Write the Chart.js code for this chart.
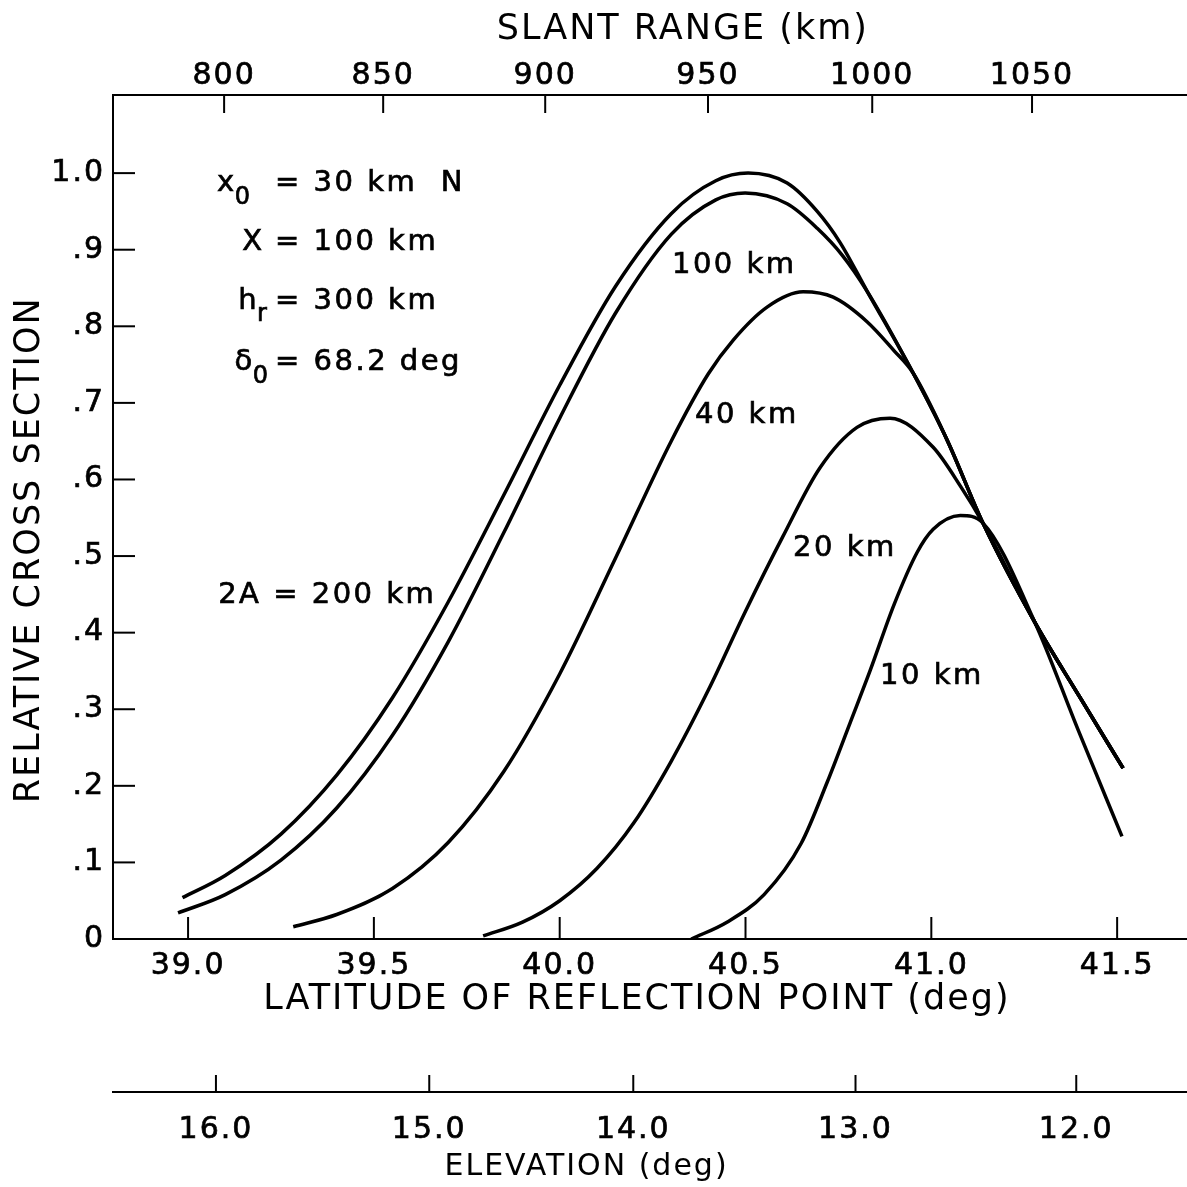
<!DOCTYPE html>
<html>
<head>
<meta charset="utf-8">
<title>Relative cross section vs latitude of reflection point</title>
<script src="https://cdn.jsdelivr.net/npm/chart.js@4.4.1/dist/chart.umd.min.js"></script>
<style>
  html, body { margin: 0; padding: 0; background: #fff; }
  #wrap { width: 1187px; height: 1187px; position: relative; }
</style>
</head>
<body>
<div id="wrap"><canvas id="myChart"></canvas></div>
<script>
// latitude (deg) / relative cross section for each beam width 2A
var lat200 = [38.985, 39.10, 39.25, 39.40, 39.55, 39.70, 39.85, 40.00, 40.15, 40.30, 40.42, 40.507, 40.612, 40.693, 40.755];
var val200 = [0.054, 0.083, 0.137, 0.214, 0.315, 0.440, 0.580, 0.723, 0.852, 0.947, 0.990, 1.000, 0.987, 0.950, 0.909];

var lat100 = [38.973, 39.10, 39.25, 39.40, 39.55, 39.70, 39.85, 40.00, 40.15, 40.30, 40.42, 40.499, 40.612, 40.693, 40.760];
var val100 = [0.034, 0.058, 0.103, 0.171, 0.266, 0.388, 0.531, 0.680, 0.817, 0.920, 0.965, 0.974, 0.960, 0.928, 0.893];

var lat40 = [39.283, 39.40, 39.55, 39.70, 39.85, 40.00, 40.15, 40.30, 40.40, 40.467, 40.558, 40.655, 40.736, 40.827, 40.90];
var val40 = [0.016, 0.032, 0.066, 0.126, 0.219, 0.346, 0.497, 0.650, 0.738, 0.782, 0.825, 0.845, 0.838, 0.806, 0.768];

var lat20 = [39.794, 39.90, 40.00, 40.10, 40.20, 40.30, 40.40, 40.50, 40.60, 40.70, 40.80, 40.889, 41.005, 41.08];
var val20 = [0.004, 0.022, 0.050, 0.092, 0.152, 0.232, 0.325, 0.428, 0.525, 0.615, 0.668, 0.680, 0.642, 0.590];

var lat10 = [40.354, 40.45, 40.55, 40.65, 40.72, 40.782, 40.835, 40.90, 40.962, 41.005, 41.078, 41.139, 41.279, 41.395, 41.513];
var val10 = [0.000, 0.022, 0.058, 0.125, 0.205, 0.283, 0.350, 0.437, 0.505, 0.535, 0.553, 0.543, 0.413, 0.273, 0.134];

// common falling edge the wider beams run into
var envLat = [40.827, 40.951, 41.043, 41.139, 41.279, 41.398, 41.516];
var envVal = [0.846, 0.739, 0.651, 0.543, 0.413, 0.317, 0.223];

// axes
var latTicks = [39.0, 39.5, 40.0, 40.5, 41.0, 41.5];
var latLabels = ['39.0', '39.5', '40.0', '40.5', '41.0', '41.5'];
var yTicks = [0, 0.1, 0.2, 0.3, 0.4, 0.5, 0.6, 0.7, 0.8, 0.9, 1.0];
var yLabels = ['0', '.1', '.2', '.3', '.4', '.5', '.6', '.7', '.8', '.9', '1.0'];
var slantLabels = ['800', '850', '900', '950', '1000', '1050'];
var slantLat = [39.097, 39.525, 39.961, 40.399, 40.841, 41.271];
var elevLabels = ['16.0', '15.0', '14.0', '13.0', '12.0'];
var elevLat = [39.075, 39.649, 40.198, 40.796, 41.390];

var latMin = 38.798, latMax = 41.688;

Chart.defaults.font.family = '"DejaVu Sans", sans-serif';
Chart.defaults.color = '#000';

function curve(lat, val) {
    return lat.map(function (x, i) { return {x: x, y: val[i]}; });
}

var datasets = [
    {label: '200 km', data: curve(lat200.concat(envLat), val200.concat(envVal))},
    {label: '100 km', data: curve(lat100.concat(envLat), val100.concat(envVal))},
    {label: '40 km', data: curve(lat40.concat(envLat.slice(1)), val40.concat(envVal.slice(1)))},
    {label: '20 km', data: curve(lat20.concat(envLat.slice(3)), val20.concat(envVal.slice(3)))},
    {label: '10 km', data: curve(lat10, val10)}
].map(function (ds) {
    ds.borderColor = '#000';
    ds.borderWidth = 3.5;
    ds.pointRadius = 0;
    ds.fill = false;
    ds.cubicInterpolationMode = 'monotone';
    return ds;
});

function setTicks(values) {
    return function (scale) {
        scale.ticks = values.map(function (v) { return {value: v}; });
    };
}

function tickFont(labels) {
    return {
        autoSkip: false, maxRotation: 0,
        font: {size: 30, lineHeight: 1},
        textStrokeColor: '#000', textStrokeWidth: 0.7,
        callback: function (v, i) { return labels[i]; }
    };
}

// the lettering on the original is widely spaced
var lettering = {
    id: 'lettering',
    beforeUpdate: function (chart) { chart.ctx.letterSpacing = '2px'; },
    beforeDraw: function (chart) { chart.ctx.letterSpacing = '2px'; }
};

// tick marks point into the plot on every axis
var innerTicks = {
    id: 'innerTicks',
    afterDatasetsDraw: function (chart, args, opts) {
        var ctx = chart.ctx;
        ctx.save();
        ctx.strokeStyle = '#000';
        ctx.lineWidth = 2;
        opts.marks.forEach(function (m) {
            var s = chart.scales[m.scale];
            s.ticks.forEach(function (t) {
                var p = s.getPixelForValue(t.value);
                ctx.beginPath();
                if (m.scale === 'y') {
                    ctx.moveTo(s.right, p);
                    ctx.lineTo(s.right + m.len, p);
                } else if (m.scale === 'top') {
                    ctx.moveTo(p, s.bottom);
                    ctx.lineTo(p, s.bottom + m.len);
                } else {
                    ctx.moveTo(p, s.top);
                    ctx.lineTo(p, s.top - m.len);
                }
                ctx.stroke();
            });
        });
        ctx.restore();
    }
};

// parameter block and curve labels
var notes = {
    id: 'notes',
    afterDatasetsDraw: function (chart, args, opts) {
        var ctx = chart.ctx, xs = chart.scales.x, ys = chart.scales.y;
        ctx.save();
        ctx.fillStyle = '#000';
        ctx.strokeStyle = '#000';
        ctx.lineWidth = 0.7;
        ctx.textAlign = 'left';
        ctx.textBaseline = 'middle';
        ctx.letterSpacing = '2.5px';
        opts.items.forEach(function (it) {
            var x = xs.getPixelForValue(it.lat);
            var y = ys.getPixelForValue(it.val);
            ctx.font = '29px "DejaVu Sans"';
            ctx.fillText(it.text, x, y);
            ctx.strokeText(it.text, x, y);
            if (it.sub) {
                var w = ctx.measureText(it.text).width;
                ctx.font = '24px "DejaVu Sans"';
                ctx.fillText(it.sub, x + w - 2, y + 14);
                ctx.strokeText(it.sub, x + w - 2, y + 14);
            }
        });
        ctx.restore();
    }
};

var ctx = document.getElementById('myChart');

var xTicks = tickFont(latLabels);
xTicks.padding = 12;
var elevTicks = tickFont(elevLabels);
elevTicks.padding = 23;
var topTicks = tickFont(slantLabels);
topTicks.padding = 4;
var yTickOpts = tickFont(yLabels);
yTickOpts.padding = 8;

var myChart = new Chart(ctx, {
    type: 'line',
    data: {datasets: datasets},
    plugins: [lettering, innerTicks, notes],
    options: {
        responsive: true,
        maintainAspectRatio: false,
        animation: false,
        layout: {padding: {top: 11, left: 0, right: 0, bottom: 0}},
        plugins: {
            legend: {display: false},
            tooltip: {enabled: false},
            innerTicks: {
                marks: [
                    {scale: 'y', len: 22},
                    {scale: 'x', len: 22},
                    {scale: 'top', len: 18},
                    {scale: 'elev', len: 17}
                ]
            },
            notes: {
                items: [
                    {text: 'x', sub: '0', lat: 39.078, val: 0.986},
                    {text: '= 30 km  N', lat: 39.234, val: 0.986},
                    {text: 'X', lat: 39.146, val: 0.910},
                    {text: '= 100 km', lat: 39.234, val: 0.910},
                    {text: 'h', sub: 'r', lat: 39.135, val: 0.833},
                    {text: '= 300 km', lat: 39.234, val: 0.833},
                    {text: 'δ', sub: '0', lat: 39.125, val: 0.753},
                    {text: '= 68.2 deg', lat: 39.234, val: 0.753},
                    {text: '2A = 200 km', lat: 39.081, val: 0.449},
                    {text: '100 km', lat: 40.302, val: 0.880},
                    {text: '40 km', lat: 40.364, val: 0.684},
                    {text: '20 km', lat: 40.628, val: 0.510},
                    {text: '10 km', lat: 40.862, val: 0.343}
                ]
            }
        },
        scales: {
            x: {
                type: 'linear',
                position: 'bottom',
                weight: 0,
                min: latMin,
                max: latMax,
                afterBuildTicks: setTicks(latTicks),
                afterFit: function (s) { s.height = 153; },
                ticks: xTicks,
                grid: {drawOnChartArea: false, drawTicks: false},
                border: {color: '#000', width: 2},
                title: {
                    display: true,
                    text: 'LATITUDE OF REFLECTION POINT (deg)  ',
                    font: {size: 35, lineHeight: 1},
                    padding: {top: 0, bottom: 74.5}
                }
            },
            elev: {
                type: 'linear',
                position: 'bottom',
                weight: 1,
                min: latMin,
                max: latMax,
                afterBuildTicks: setTicks(elevLat),
                afterFit: function (s) { s.height = 95; },
                ticks: elevTicks,
                grid: {drawOnChartArea: false, drawTicks: false},
                border: {color: '#000', width: 2},
                title: {
                    display: true,
                    text: 'ELEVATION (deg)           ',
                    font: {size: 30, lineHeight: 1},
                    padding: {top: 0, bottom: 5}
                }
            },
            top: {
                type: 'linear',
                position: 'top',
                min: latMin,
                max: latMax,
                afterBuildTicks: setTicks(slantLat),
                afterFit: function (s) { s.height = 84; },
                ticks: topTicks,
                grid: {drawOnChartArea: false, drawTicks: false},
                border: {color: '#000', width: 2},
                title: {
                    display: true,
                    text: '     SLANT RANGE (km)',
                    font: {size: 35, lineHeight: 1},
                    padding: {top: 1.5, bottom: 0}
                }
            },
            y: {
                type: 'linear',
                position: 'left',
                min: 0,
                max: 1.102,
                afterBuildTicks: setTicks(yTicks),
                afterFit: function (s) { s.width = 113; },
                ticks: yTickOpts,
                grid: {drawOnChartArea: false, drawTicks: false},
                border: {color: '#000', width: 2},
                title: {
                    display: true,
                    text: 'RELATIVE CROSS SECTION     ',
                    font: {size: 35, lineHeight: 1},
                    padding: {top: 12.5, bottom: 0}
                }
            }
        }
    }
});
</script>
</body>
</html>
